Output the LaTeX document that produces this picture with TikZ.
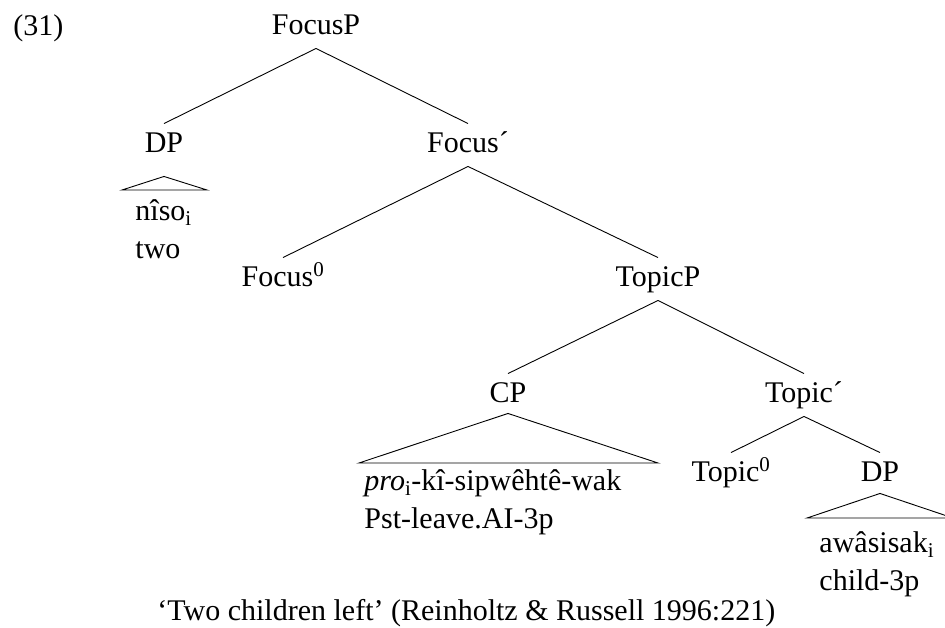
\documentclass[tikz,border=0pt]{standalone}
\usepackage{fontspec}
\setmainfont{Liberation Serif}
\begin{document}
\fontsize{30}{38}\selectfont
\begin{tikzpicture}[x=1pt,y=-1pt,
  line width=0.9pt,
  cat/.style={anchor=base,inner sep=7pt,text height=21pt,text depth=7pt},
  leaf/.style={anchor=base west,inner sep=0pt}]
\useasboundingbox (0,0) rectangle (945,627);

% example number
\node[leaf] (num) at (13,35) {(31)};

% category labels
\node[cat] (focusp)  at (316,34)  {FocusP};
\node[cat] (dpa)     at (164,152) {DP};
\node[cat] (focusb)  at (468,152) {Focus´};
\node[cat] (focusz)  at (283,286) {Focus\textsuperscript{0}};
\node[cat] (topicp)  at (658,286) {TopicP};
\node[cat] (cp)      at (508,402) {CP};
\node[cat] (topicb)  at (804,402) {Topic´};
\node[cat] (topicz)  at (731,481) {Topic\textsuperscript{0}};
\node[cat] (dpb)     at (880,481) {DP};

% branches
\draw (focusp.south) -- (dpa.north);
\draw (focusp.south) -- (focusb.north);
\draw (focusb.south) -- (focusz.north);
\draw (focusb.south) -- (topicp.north);
\draw (topicp.south) -- (cp.north);
\draw (topicp.south) -- (topicb.north);
\draw (topicb.south) -- (topicz.north);
\draw (topicb.south) -- (dpb.north);

% triangles for unanalysed constituents
\coordinate (dpaL) at (122,190);
\coordinate (dpaR) at (207,190);
\draw ([yshift=-10pt]dpa.south) -- (dpaL) -- (dpaR) -- cycle;
\coordinate (cpL) at (359,463);
\coordinate (cpR) at (658,463);
\draw ([yshift=3pt]cp.south) -- (cpL) -- (cpR) -- cycle;
\coordinate (dpbL) at (807,518);
\coordinate (dpbR) at (953,518);
\draw ([yshift=2pt]dpb.south) -- (dpbL) -- (dpbR) -- cycle;

% terminal strings and glosses
\node[leaf] (nisoa) at (135,220) {nîso\textsubscript{i}};
\node[leaf] (nisob) at (135,258) {two};
\node[leaf] (proa)  at (364,490) {\textit{pro}\textsubscript{i}-kî-sipwêhtê-wak};
\node[leaf] (prob)  at (364,528) {Pst-leave.AI-3p};
\node[leaf] (awaa)  at (819,552) {awâsisak\textsubscript{i}};
\node[leaf] (awab)  at (819,590) {child-3p};

% translation
\node[leaf] (trans) at (157,620) {‘Two children left’ (Reinholtz \& Russell 1996:221)};
\end{tikzpicture}
\end{document}
